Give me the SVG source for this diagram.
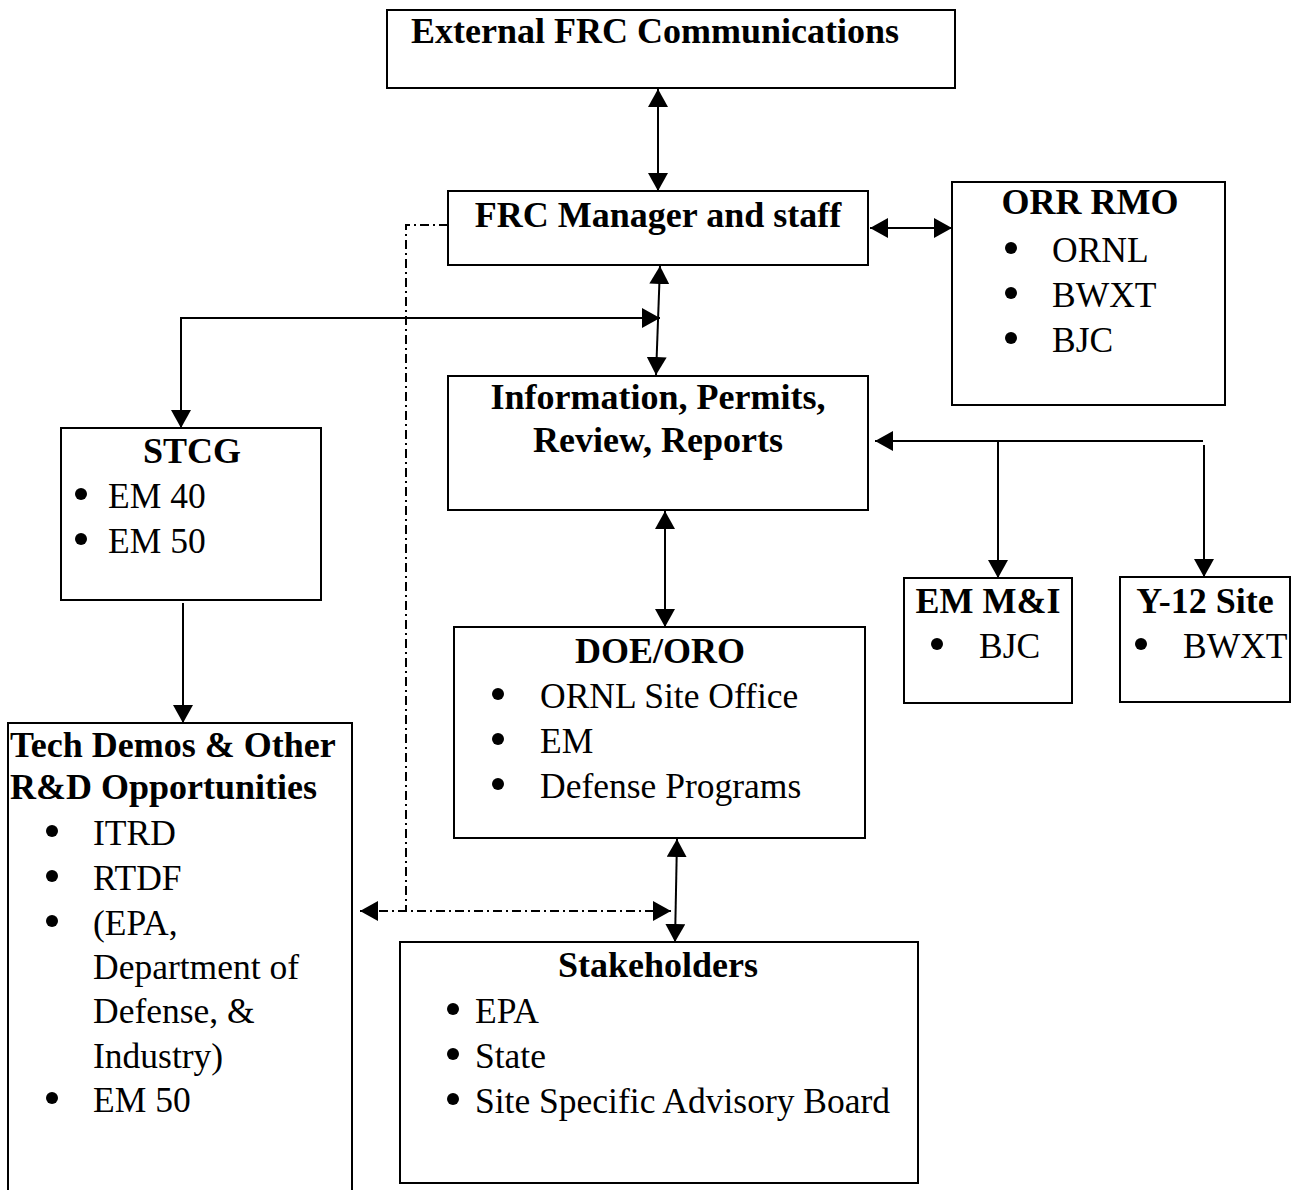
<svg xmlns="http://www.w3.org/2000/svg" width="1302" height="1190" viewBox="0 0 1302 1190">
<style>
.box{fill:#fff;stroke:#000;stroke-width:2}
.t{font-family:"Liberation Serif","Times New Roman",serif;font-size:36px;font-weight:bold;fill:#000}
.c{text-anchor:middle}
.b{font-family:"Liberation Serif","Times New Roman",serif;font-size:35.5px;fill:#000}
.dot{fill:#000}
.ln{fill:none;stroke:#000;stroke-width:2}
.dd{fill:none;stroke:#000;stroke-width:2;stroke-dasharray:9 4 2 4}
</style>
<defs>
<marker id="ah" viewBox="0 0 18 20" markerWidth="18" markerHeight="20" refX="18" refY="10" orient="auto-start-reverse" markerUnits="userSpaceOnUse">
<path d="M0,0 L18,10 L0,20 z" fill="#000"/>
</marker>
</defs>
<rect width="1302" height="1190" fill="#fff"/>
<g id="connectors">
<line class="ln" x1="658" y1="89" x2="658" y2="191" marker-start="url(#ah)" marker-end="url(#ah)"/>
<line class="ln" x1="870" y1="228" x2="952" y2="228" marker-start="url(#ah)" marker-end="url(#ah)"/>
<line class="ln" x1="660" y1="266" x2="656" y2="375" marker-start="url(#ah)" marker-end="url(#ah)"/>
<path class="ln" d="M660,318 H181 V428" marker-start="url(#ah)" marker-end="url(#ah)"/>
<path class="ln" d="M1203,441 H875" marker-end="url(#ah)"/>
<path class="ln" d="M998,441 V578" marker-end="url(#ah)"/>
<path class="ln" d="M1204,445 V577" marker-end="url(#ah)"/>
<line class="ln" x1="665" y1="511" x2="665" y2="627" marker-start="url(#ah)" marker-end="url(#ah)"/>
<path class="ln" d="M183,603 V723" marker-end="url(#ah)"/>
<line class="ln" x1="677" y1="839" x2="675" y2="942" marker-start="url(#ah)" marker-end="url(#ah)"/>
<path class="dd" d="M448,225 H406 V911"/>
<path class="dd" d="M360,911 H671" marker-start="url(#ah)" marker-end="url(#ah)"/>
</g>
<g id="external">
<rect class="box" x="387" y="10" width="568" height="78"/>
<text class="t c" x="655" y="43">External FRC Communications</text>
</g>
<g id="frc-manager">
<rect class="box" x="448" y="191" width="420" height="74"/>
<text class="t c" x="658" y="227">FRC Manager and staff</text>
</g>
<g id="orr-rmo">
<rect class="box" x="952" y="182" width="273" height="223"/>
<text class="t c" x="1090" y="214">ORR RMO</text>
<circle class="dot" cx="1011" cy="248" r="6"/><text class="b" x="1052" y="262">ORNL</text>
<circle class="dot" cx="1011" cy="293" r="6"/><text class="b" x="1052" y="307">BWXT</text>
<circle class="dot" cx="1011" cy="338" r="6"/><text class="b" x="1052" y="352">BJC</text>
</g>
<g id="information">
<rect class="box" x="448" y="376" width="420" height="134"/>
<text class="t c" x="658" y="409">Information, Permits,</text>
<text class="t c" x="658" y="452">Review, Reports</text>
</g>
<g id="stcg">
<rect class="box" x="61" y="428" width="260" height="172"/>
<text class="t c" x="192" y="463">STCG</text>
<circle class="dot" cx="81" cy="494" r="6"/><text class="b" x="108" y="508">EM 40</text>
<circle class="dot" cx="81" cy="539" r="6"/><text class="b" x="108" y="553">EM 50</text>
</g>
<g id="tech-demos">
<rect class="box" x="8" y="723" width="344" height="480"/>
<text class="t" x="10" y="757">Tech Demos &amp; Other</text>
<text class="t" x="10" y="799">R&amp;D Opportunities</text>
<circle class="dot" cx="52" cy="831" r="6"/><text class="b" x="93" y="845">ITRD</text>
<circle class="dot" cx="52" cy="876" r="6"/><text class="b" x="93" y="890">RTDF</text>
<circle class="dot" cx="52" cy="921" r="6"/><text class="b" x="93" y="935">(EPA,</text>
<text class="b" x="93" y="979">Department of</text>
<text class="b" x="93" y="1023">Defense, &amp;</text>
<text class="b" x="93" y="1068">Industry)</text>
<circle class="dot" cx="52" cy="1098" r="6"/><text class="b" x="93" y="1112">EM 50</text>
</g>
<g id="doe-oro">
<rect class="box" x="454" y="627" width="411" height="211"/>
<text class="t c" x="660" y="663">DOE/ORO</text>
<circle class="dot" cx="498" cy="694" r="6"/><text class="b" x="540" y="708">ORNL Site Office</text>
<circle class="dot" cx="498" cy="739" r="6"/><text class="b" x="540" y="753">EM</text>
<circle class="dot" cx="498" cy="784" r="6"/><text class="b" x="540" y="798">Defense Programs</text>
</g>
<g id="em-mi">
<rect class="box" x="904" y="578" width="168" height="125"/>
<text class="t c" x="988" y="613">EM M&amp;I</text>
<circle class="dot" cx="937" cy="644" r="6"/><text class="b" x="979" y="658">BJC</text>
</g>
<g id="y12">
<rect class="box" x="1120" y="577" width="170" height="125"/>
<text class="t c" x="1205" y="613">Y-12 Site</text>
<circle class="dot" cx="1141" cy="644" r="6"/><text class="b" x="1183" y="658">BWXT</text>
</g>
<g id="stakeholders">
<rect class="box" x="400" y="942" width="518" height="241"/>
<text class="t c" x="658" y="977">Stakeholders</text>
<circle class="dot" cx="453" cy="1009" r="6"/><text class="b" x="475" y="1023">EPA</text>
<circle class="dot" cx="453" cy="1054" r="6"/><text class="b" x="475" y="1068">State</text>
<circle class="dot" cx="453" cy="1099" r="6"/><text class="b" x="475" y="1113">Site Specific Advisory Board</text>
</g>
</svg>
